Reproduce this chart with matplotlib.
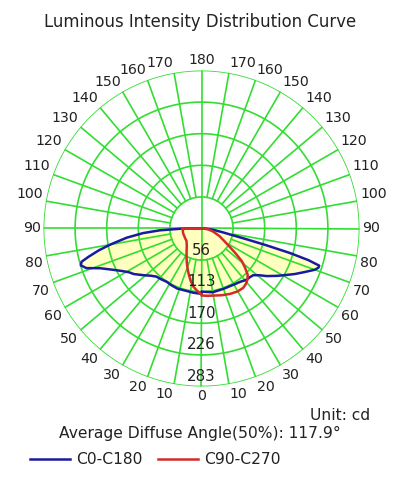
import numpy as np
import matplotlib
matplotlib.use("Agg")
import matplotlib.pyplot as plt

# ring values (cd) and angle labels
ring_cd = [56.6, 113.2, 169.8, 226.4, 283.0]
ring_labels = ["56", "113", "170", "226", "283"]
angle_labels = list(range(0, 190, 10))

# C0-C180 curve, right half (gamma deg, cd)
blue_r_ang = [0, 10, 20, 30, 36, 41, 45, 48, 51, 54, 58, 61, 64, 67, 70, 71.5, 72.5,
              73.5, 74.5, 75.5, 76.5, 78, 80, 84, 90]
blue_r_cd = [113, 116, 115, 116, 118, 122, 123, 125, 133, 145, 160, 172, 186, 200, 216, 221, 221,
             200, 165, 120, 85, 55, 38, 20, 6]
# C0-C180 curve, left half
blue_l_ang = [0, 7, 15, 22, 28, 33, 38, 43, 47, 51, 56, 59, 62, 65, 68.6, 71, 73,
              74.5, 76, 78, 80, 83, 85.5, 87.5, 90]
blue_l_cd = [117, 116, 115, 116, 115, 114, 116, 118, 124, 133, 146, 152, 162, 175, 195, 218, 226,
             223, 208, 188, 166, 135, 105, 75, 32]

# C90-C270 curve, right half
red_r_ang = [0, 5, 10, 17, 24, 30, 35, 39, 42, 45, 48, 51, 54, 57, 61, 67, 75, 83, 90]
red_r_cd = [120, 121, 122, 125, 128, 130, 130, 127, 123, 117, 105, 93, 75, 60, 47, 35, 22, 12, 3]
# C90-C270 curve, left half
red_l_ang = [0, 4, 8, 12, 16, 20, 24, 28, 33, 40, 50, 60, 75, 90]
red_l_cd = [118, 112, 105, 95, 84, 74, 65, 57, 49, 41, 35, 34, 34, 34]

green = "#33DD33"
blue = "#1A1AA0"
red = "#D42A2A"
fill_col = "#FFFFC0"
txt_col = "#222222"


def closed(ang_l, cd_l, ang_r, cd_r):
    th = np.concatenate([-np.array(ang_l[::-1]), np.array(ang_r)])
    rr = np.concatenate([np.array(cd_l[::-1]), np.array(cd_r)])
    th = np.append(th, th[0])
    rr = np.append(rr, rr[0])
    return np.radians(th), rr


fig = plt.figure(figsize=(4.08, 4.83), dpi=100)
ax = fig.add_axes([43.5 / 408, 96.5 / 483, 316 / 408, 316 / 483], projection="polar")
ax.set_theta_zero_location("S")
ax.set_theta_direction(1)
rmax = ring_cd[-1]
ax.set_rlim(0, rmax)
ax.set_xticks([])
ax.set_yticks([])
ax.grid(False)
ax.spines["polar"].set_visible(False)
ax.patch.set_alpha(0)

# fills
tb, rb = closed(blue_l_ang, blue_l_cd, blue_r_ang, blue_r_cd)
tr, rr = closed(red_l_ang, red_l_cd, red_r_ang, red_r_cd)
ax.fill(tb, rb, color=fill_col, zorder=1, lw=0)
ax.fill(tr, rr, color=fill_col, zorder=1, lw=0)

# grid
circ = np.linspace(0, 2 * np.pi, 361)
for r in ring_cd:
    ax.plot(circ, np.full_like(circ, r), color=green, lw=1.2, zorder=2)
for a in range(0, 360, 10):
    r0 = 0 if a % 90 == 0 else ring_cd[0]
    ax.plot([np.radians(a)] * 2, [r0, rmax], color=green, lw=1.2, zorder=2)

# curves
lb, = ax.plot(tb, rb, color=blue, lw=1.8, zorder=3, label="C0-C180")
lr, = ax.plot(tr, rr, color=red, lw=1.8, zorder=4, label="C90-C270")

# ring labels
for r, s in zip(ring_cd, ring_labels):
    ax.text(0, r - 18, s, ha="center", va="center", fontsize=10.8, color=txt_col, zorder=5)

# angle labels
r_lab = rmax * 161 / 158
for g in angle_labels:
    for side in (1, -1):
        if side == -1 and g in (0, 180):
            continue
        if g in (0, 180):
            ha = "center"
        else:
            ha = "left" if side == 1 else "right"
        if g < 90:
            va = "top"
        elif g > 90:
            va = "bottom"
        else:
            va = "center"
        ax.text(np.radians(side * g), r_lab, str(g), ha=ha, va=va,
                fontsize=10.2, color=txt_col)

fig.text(200 / 408, 1 - 22 / 483, "Luminous Intensity Distribution Curve",
         ha="center", va="center", fontsize=11.9, color=txt_col)
fig.text(370 / 408, 1 - 415 / 483, "Unit: cd", ha="right", va="center",
         fontsize=11.2, color=txt_col)
fig.text(199.5 / 408, 1 - 433 / 483, "Average Diffuse Angle(50%): 117.9°",
         ha="center", va="center", fontsize=11.2, color=txt_col)

fig.legend(handles=[lb, lr], loc="center left", bbox_to_anchor=(30 / 408, 1 - 460 / 483),
           ncol=2, frameon=False, fontsize=11.2, handlelength=2.6, handletextpad=0.35,
           columnspacing=1.0, borderpad=0, borderaxespad=0, labelcolor=txt_col)

fig.savefig("out.png", dpi=100, facecolor="white")
